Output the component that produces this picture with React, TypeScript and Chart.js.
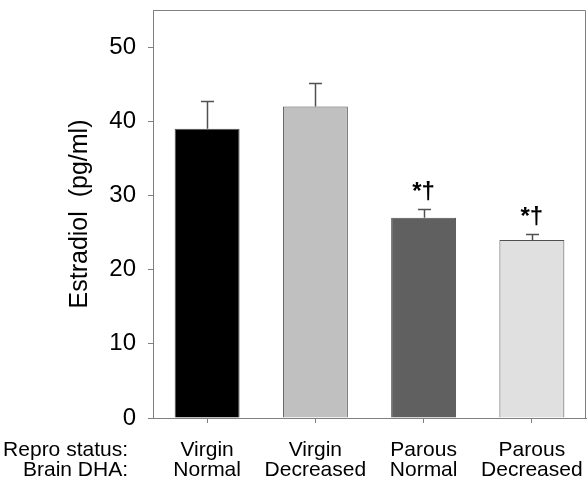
import React, { useEffect, useRef } from "react";
import { Chart, registerables } from "chart.js";

Chart.register(...registerables);

const reproStatus = ["Virgin", "Virgin", "Parous", "Parous"];
const brainDHA = ["Normal", "Decreased", "Normal", "Decreased"];
const estradiol = [39, 42, 27, 24];
const errorUp = [3.8, 3.2, 1.2, 0.8];
const significance = ["", "", "*†", "*†"];
const barColors = ["#000000", "#c0c0c0", "#606060", "#e0e0e0"];
const rowHeaders = ["Repro status:", "Brain DHA:"];
const yTitle = "Estradiol  (pg/ml)";
const yTicks = [0, 10, 20, 30, 40, 50];

const FONT = "'Liberation Sans', Arial, sans-serif";

const extrasPlugin = {
  id: "extras",
  afterDatasetsDraw(chart: any) {
    const ctx = chart.ctx;
    const y = chart.scales.y;
    const meta = chart.getDatasetMeta(0);
    ctx.save();
    ctx.strokeStyle = "#505050";
    ctx.lineWidth = 1.5;
    meta.data.forEach((bar: any, i: number) => {
      const x = Math.round(bar.x) + 0.5;
      const yb = y.getPixelForValue(estradiol[i]);
      const yt = Math.round(y.getPixelForValue(estradiol[i] + errorUp[i])) + 0.5;
      ctx.beginPath();
      ctx.moveTo(x, yb);
      ctx.lineTo(x, yt);
      ctx.moveTo(x - 6.5, yt);
      ctx.lineTo(x + 6.5, yt);
      ctx.stroke();
      if (significance[i]) {
        ctx.fillStyle = "#000";
        ctx.font = `bold 24px ${FONT}`;
        ctx.textAlign = "center";
        ctx.textBaseline = "middle";
        ctx.fillText(significance[i], bar.x, yt - 17);
      }
    });
    ctx.restore();
  },
  afterDraw(chart: any) {
    const ctx = chart.ctx;
    const a = chart.chartArea;
    const xs = chart.scales.x;
    ctx.save();
    ctx.strokeStyle = "#808080";
    ctx.lineWidth = 1;
    ctx.beginPath();
    ctx.moveTo(a.left, a.top + 0.5);
    ctx.lineTo(a.right - 0.5, a.top + 0.5);
    ctx.lineTo(a.right - 0.5, a.bottom);
    ctx.stroke();
    ctx.fillStyle = "#000";
    ctx.font = `25px ${FONT}`;
    ctx.textAlign = "center";
    ctx.textBaseline = "middle";
    ctx.translate(80, (a.top + a.bottom) / 2);
    ctx.rotate(-Math.PI / 2);
    ctx.fillText(yTitle, 0, 0);
    ctx.setTransform(1, 0, 0, 1, 0, 0);
    ctx.font = `21px ${FONT}`;
    ctx.textAlign = "right";
    ctx.textBaseline = "middle";
    const first = xs.top + 5 + 17 + 10.5;
    rowHeaders.forEach((t, k) => ctx.fillText(t, 128, first + k * 20));
    ctx.restore();
  },
};

export default function App() {
  const ref = useRef<HTMLCanvasElement>(null);
  useEffect(() => {
    if (!ref.current) return;
    const chart = new Chart(ref.current, {
      type: "bar",
      data: {
        labels: reproStatus.map((r, i) => [r, brainDHA[i]]),
        datasets: [
          {
            data: estradiol,
            backgroundColor: barColors,
            borderColor: "#505050",
            borderWidth: 1,
            categoryPercentage: 1,
            barPercentage: 0.6,
          },
        ],
      },
      options: {
        animation: false,
        responsive: false,
        maintainAspectRatio: false,
        layout: { padding: { top: 10, right: 1, left: 0, bottom: 0 } },
        plugins: { legend: { display: false }, tooltip: { enabled: false }, title: { display: false } },
        scales: {
          x: {
            grid: { display: true, drawOnChartArea: false, offset: false, tickLength: 5, color: "#808080" },
            border: { color: "#808080" },
            ticks: { color: "#000", font: { family: FONT, size: 21, lineHeight: 0.96 }, padding: 17, maxRotation: 0, autoSkip: false },
            afterFit(s: any) {
              s.height = 65;
              s.paddingLeft = 0;
              s.paddingRight = 0;
            },
          },
          y: {
            min: 0,
            max: 55,
            afterBuildTicks(s: any) {
              s.ticks = yTicks.map((v) => ({ value: v }));
            },
            grid: { display: true, drawOnChartArea: false, tickLength: 5, color: "#808080" },
            border: { color: "#808080" },
            ticks: { color: "#000", font: { family: FONT, size: 24 }, padding: 12 },
            afterFit(s: any) {
              s.width = 153;
              s.paddingTop = 0;
              s.paddingBottom = 0;
            },
          },
        },
      },
      plugins: [extrasPlugin],
    });
    return () => chart.destroy();
  }, []);
  return (
    <div style={{ position: "fixed", left: 0, top: 0, width: 587, height: 483, background: "#fff" }}>
      <canvas ref={ref} width={587} height={483} style={{ display: "block" }} />
    </div>
  );
}
